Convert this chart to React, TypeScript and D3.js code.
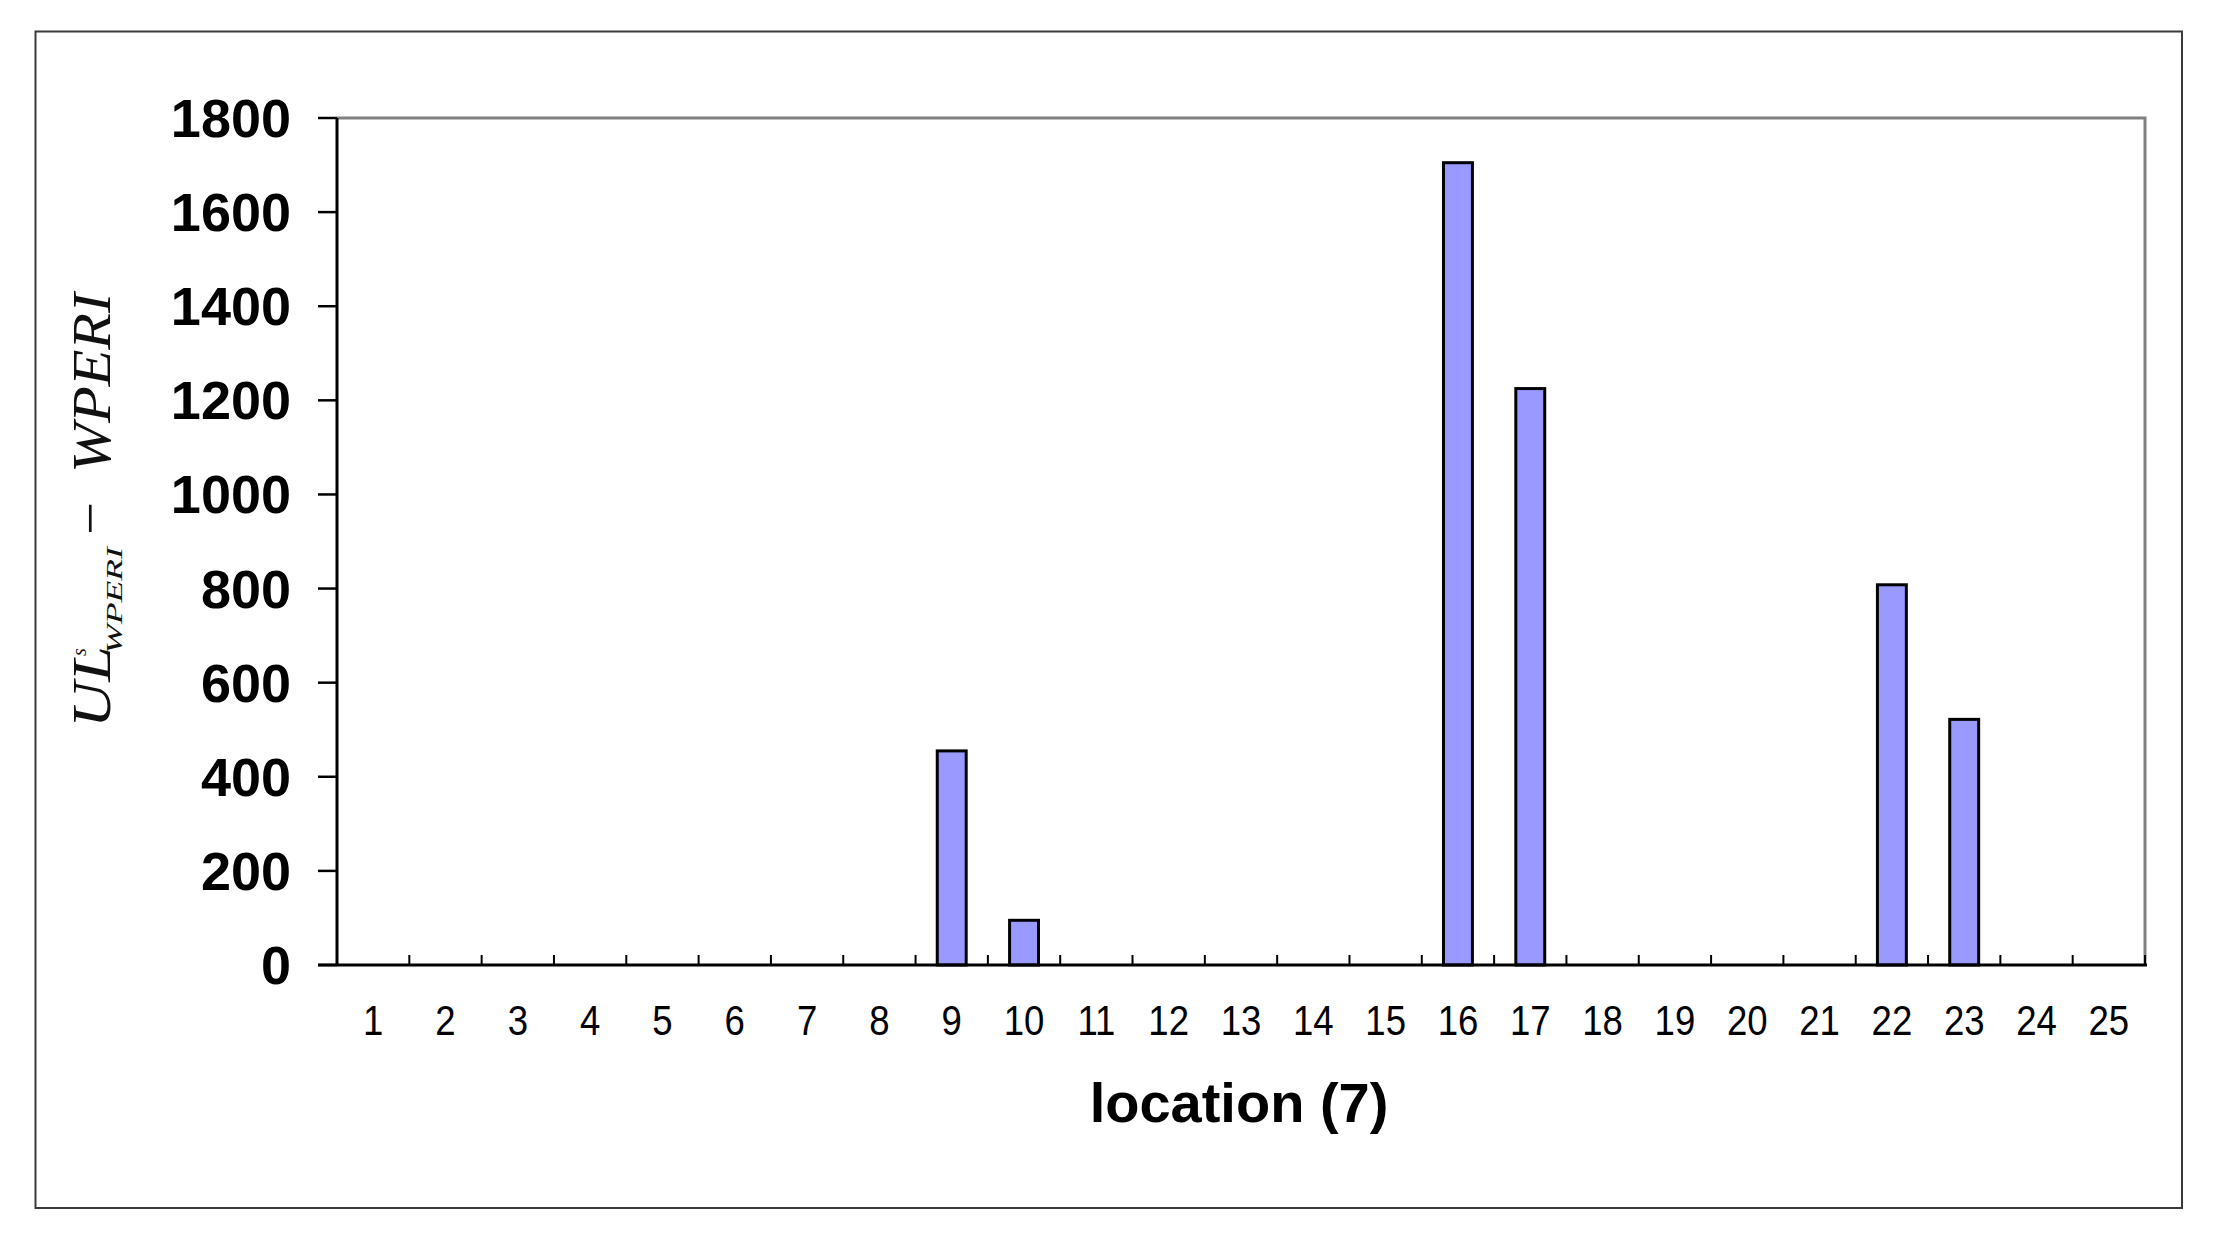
import React from 'react';
import * as d3 from 'd3';

const locations = d3.range(1, 26).map(String);
const values = [0, 0, 0, 0, 0, 0, 0, 0, 455, 95, 0, 0, 0, 0, 0, 1705, 1225, 0, 0, 0, 0, 808, 522, 0, 0];
const yTicks = [0, 200, 400, 600, 800, 1000, 1200, 1400, 1600, 1800];

const W = 2230;
const H = 1237;
const plot = {left: 337, right: 2145, top: 118, bottom: 965};

export default function App() {
    const x = d3.scaleBand().domain(locations).range([plot.left, plot.right]).padding(0);
    const y = d3.scaleLinear().domain([0, 1800]).range([plot.bottom, plot.top]);
    const barW = x.bandwidth() * 0.4;

    return (
        <svg width={W} height={H} viewBox={`0 0 ${W} ${H}`}
             style={{position: 'absolute', left: 0, top: 0, display: 'block', background: '#fff'}}>
            {/* outer frame */}
            <rect x={35.5} y={31.5} width={2146.5} height={1176.5} fill="none" stroke="#3a3a3a" strokeWidth={2}/>

            {/* plot frame: top and right gray */}
            <path d={`M${plot.left},${plot.top}H${plot.right}V${plot.bottom}`} fill="none" stroke="#808080" strokeWidth={3}/>

            {/* bars */}
            {values.map((v, i) => v > 0 && (
                <rect key={i}
                      x={x(locations[i])! + (x.bandwidth() - barW) / 2}
                      y={y(v)}
                      width={barW}
                      height={y(0) - y(v)}
                      fill="#9999ff" stroke="#000" strokeWidth={3}/>
            ))}

            {/* y axis */}
            <line x1={plot.left} x2={plot.left} y1={plot.top} y2={plot.bottom} stroke="#000" strokeWidth={3}/>
            {yTicks.map(t => (
                <g key={t}>
                    <line x1={plot.left - 19} x2={plot.left} y1={y(t)} y2={y(t)} stroke="#000" strokeWidth={2.5}/>
                    <text x={291} y={y(t) + 19} textAnchor="end" fontFamily="Liberation Sans, Arial, sans-serif"
                          fontWeight="bold" fontSize={54} fill="#000">{t}</text>
                </g>
            ))}

            {/* x axis */}
            <line x1={plot.left - 19} x2={plot.right + 2} y1={plot.bottom} y2={plot.bottom} stroke="#000" strokeWidth={3}/>
            {locations.map((d, i) => (
                <g key={d}>
                    <line x1={x(d)! + x.bandwidth()} x2={x(d)! + x.bandwidth()} y1={plot.bottom} y2={plot.bottom - 10}
                          stroke="#000" strokeWidth={2}/>
                    <text transform={`translate(${x(d)! + x.bandwidth() / 2},1035) scale(0.85,1)`}
                          textAnchor="middle" fontFamily="Liberation Sans, Arial, sans-serif" fontSize={43}
                          fill="#000">{d}</text>
                </g>
            ))}

            {/* axis titles */}
            <text x={1239} y={1122} textAnchor="middle" fontFamily="Liberation Sans, Arial, sans-serif"
                  fontWeight="bold" fontSize={56} fill="#000">location (7)</text>

            <g transform="translate(110,728) rotate(-90)" fontFamily="Liberation Serif, Times New Roman, serif"
               fontStyle="italic" fill="#111">
                <text x={0} y={0} fontSize={54} textLength={82} lengthAdjust="spacingAndGlyphs">UL</text>
                <text x={72} y={-24} fontSize={20}>s</text>
                <text x={74} y={12} fontSize={23} textLength={107} lengthAdjust="spacingAndGlyphs">WPERI</text>
                <text x={193} y={-2} fontSize={54} fontStyle="normal" textLength={33}
                      lengthAdjust="spacingAndGlyphs">−</text>
                <text x={255} y={0} fontSize={54} textLength={180} lengthAdjust="spacingAndGlyphs">WPERI</text>
            </g>
        </svg>
    );
}
